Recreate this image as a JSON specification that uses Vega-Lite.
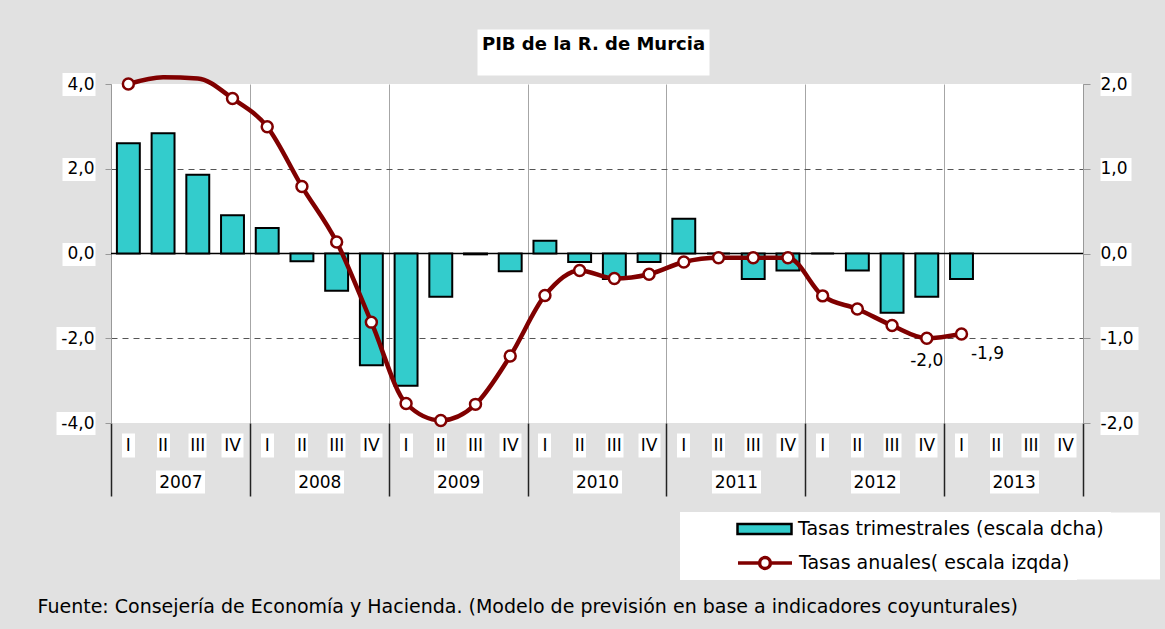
{
  "$schema": "https://vega.github.io/schema/vega-lite/v6.json",
  "width": 972,
  "height": 339,
  "autosize": {"type": "none"},
  "padding": {"left": 111, "top": 84, "right": 82, "bottom": 206},
  "background": "#e1e1e1",
  "config": {
    "view": {"fill": "white", "stroke": null},
    "font": "DejaVu Sans",
    "locale": {"number": {"decimal": ",", "thousands": ".", "grouping": [3], "currency": ["", " €"], "minus": "-"}},
    "axis": {"labelFont": "DejaVu Sans", "labelColor": "black", "labelFontSize": 17, "title": null},
    "legend": {"title": null, "orient": "none", "fillColor": "white", "padding": 7, "symbolOffset": 49, "labelOffset": 5,
      "clipHeight": 20, "labelFontSize": 19, "labelColor": "black", "labelFont": "DejaVu Sans", "labelLimit": 800, "symbolSize": 2916}
  },
  "data": {
    "values": [
      {"q": "2007-I", "year": "2007", "trim": 1.30, "anual": 4.00},
      {"q": "2007-II", "year": "2007", "trim": 1.42, "anual": 4.16},
      {"q": "2007-III", "year": "2007", "trim": 0.93, "anual": 4.13},
      {"q": "2007-IV", "year": "2007", "trim": 0.45, "anual": 3.66},
      {"q": "2008-I", "year": "2008", "trim": 0.30, "anual": 2.99},
      {"q": "2008-II", "year": "2008", "trim": -0.09, "anual": 1.58},
      {"q": "2008-III", "year": "2008", "trim": -0.44, "anual": 0.27},
      {"q": "2008-IV", "year": "2008", "trim": -1.32, "anual": -1.62},
      {"q": "2009-I", "year": "2009", "trim": -1.56, "anual": -3.54},
      {"q": "2009-II", "year": "2009", "trim": -0.51, "anual": -3.94},
      {"q": "2009-III", "year": "2009", "trim": -0.01, "anual": -3.56},
      {"q": "2009-IV", "year": "2009", "trim": -0.21, "anual": -2.42},
      {"q": "2010-I", "year": "2010", "trim": 0.15, "anual": -0.99},
      {"q": "2010-II", "year": "2010", "trim": -0.10, "anual": -0.40},
      {"q": "2010-III", "year": "2010", "trim": -0.30, "anual": -0.59},
      {"q": "2010-IV", "year": "2010", "trim": -0.10, "anual": -0.49},
      {"q": "2011-I", "year": "2011", "trim": 0.41, "anual": -0.20},
      {"q": "2011-II", "year": "2011", "trim": 0.0, "anual": -0.10},
      {"q": "2011-III", "year": "2011", "trim": -0.30, "anual": -0.10},
      {"q": "2011-IV", "year": "2011", "trim": -0.20, "anual": -0.10},
      {"q": "2012-I", "year": "2012", "trim": 0.0, "anual": -1.00},
      {"q": "2012-II", "year": "2012", "trim": -0.20, "anual": -1.31},
      {"q": "2012-III", "year": "2012", "trim": -0.70, "anual": -1.70},
      {"q": "2012-IV", "year": "2012", "trim": -0.51, "anual": -2.00, "etiqueta": "-2,0"},
      {"q": "2013-I", "year": "2013", "trim": -0.30, "anual": -1.90, "etiqueta": "-1,9"},
      {"q": "2013-II", "year": "2013", "trim": null, "anual": null},
      {"q": "2013-III", "year": "2013", "trim": null, "anual": null},
      {"q": "2013-IV", "year": "2013", "trim": null, "anual": null}
    ]
  },
  "resolve": {"scale": {"x": "independent", "y": "independent"}, "axis": {"x": "independent", "y": "independent"}},
  "layer": [
    {
      "mark": {"type": "point", "opacity": 0},
      "encoding": {
        "x": {"field": "year", "type": "nominal",
          "scale": {"domain": ["2007","2008","2009","2010","2011","2012","2013"], "paddingInner": 0, "paddingOuter": 0},
          "axis": {"orient": "bottom", "values": ["2012"], "offset": 89, "ticks": true, "tickSize": 67, "tickWidth": 479, "tickOffset": 45, "tickColor": "white", "labels": false, "domain": false, "grid": false}},
        "y": {"field": "anual", "type": "quantitative", "scale": {"domain": [-4, 4], "nice": false}, "axis": null}
      }
    },
    {
      "mark": {"type": "point", "opacity": 0},
      "encoding": {
        "x": {"field": "year", "type": "nominal",
          "scale": {"domain": ["2007","2008","2009","2010","2011","2012","2013"], "paddingInner": 0, "paddingOuter": 0},
          "axis": {"orient": "bottom", "values": ["2007"], "offset": 0, "ticks": true, "tickSize": 0, "tickColor": "transparent", "domain": false, "grid": false,
            "labelExpr": "'Fuente: Consejería de Economía y Hacienda. (Modelo de previsión en base a indicadores coyunturales)'",
            "labelAngle": 0, "labelAlign": "left", "labelBaseline": "top", "labelOffset": -143.4, "labelPadding": 174,
            "labelFontSize": 19, "labelLimit": 1200}},
        "y": {"field": "anual", "type": "quantitative", "scale": {"domain": [-4, 4], "nice": false}, "axis": null}
      }
    },
    {
      "mark": {"type": "point", "opacity": 0},
      "encoding": {
        "x": {"field": "year", "type": "nominal",
          "scale": {"domain": ["2007","2008","2009","2010","2011","2012","2013"], "paddingInner": 0, "paddingOuter": 0},
          "axis": {"orient": "bottom", "offset": 47, "ticks": true, "tickSize": 23, "tickWidth": 49, "tickColor": "white", "labels": false, "domain": false, "grid": false}},
        "y": {"field": "anual", "type": "quantitative",
          "scale": {"domain": [-4, 4], "nice": false, "zero": false},
          "axis": {"orient": "left", "values": [-4, -2, 0, 2, 4], "offset": 16,
            "tickSize": {"condition": {"test": "datum.value < 0", "value": 39}, "value": 33},
            "tickWidth": 23, "tickColor": "white", "labels": false, "domain": false,
            "grid": true, "gridDash": [6, 5], "gridColor": "#555",
            "gridOpacity": {"condition": {"test": "abs(datum.value) == 2", "value": 1}, "value": 0}}}
      }
    },
    {
      "mark": {"type": "point", "opacity": 0},
      "encoding": {
        "x": {"field": "year", "type": "nominal",
          "scale": {"domain": ["2007","2008","2009","2010","2011","2012","2013"], "paddingInner": 0, "paddingOuter": 0},
          "axis": {"orient": "bottom", "offset": 0, "tickBand": "extent", "ticks": true, "tickSize": 73, "tickWidth": 1.5, "tickColor": "#222",
            "grid": true, "gridColor": "#a6a6a6", "gridWidth": 1, "domain": false, "labelAngle": 0,
            "labelBaseline": "middle", "labelPadding": -14}},
        "y": {"field": "trim", "type": "quantitative",
          "scale": {"domain": [-2, 2], "nice": false, "zero": false},
          "axis": {"orient": "right", "values": [-2, -1, 0, 1, 2], "offset": 17,
            "tickSize": {"condition": {"test": "datum.value < 0", "value": 38}, "value": 31},
            "tickWidth": 23, "tickColor": "white", "labels": false, "domain": false, "grid": false}}
      }
    },
    {
      "mark": {"type": "point", "opacity": 0},
      "encoding": {
        "x": {"field": "year", "type": "nominal",
          "scale": {"domain": ["2007","2008","2009","2010","2011","2012","2013"], "paddingInner": 0, "paddingOuter": 0},
          "axis": {"orient": "top", "values": ["2010"], "offset": 9, "ticks": true, "tickSize": 46, "tickWidth": 232, "tickOffset": -4, "tickColor": "white",
            "domain": false, "grid": false, "labelAngle": 0,
            "labelExpr": "'PIB de la R. de Murcia'", "labelFontWeight": "bold", "labelFontSize": 18,
            "labelBaseline": "alphabetic", "labelPadding": -20, "labelLimit": 400}},
        "y": {"field": "anual", "type": "quantitative", "scale": {"domain": [-4, 4], "nice": false}, "axis": null}
      }
    },
    {
      "data": {"values": [{"z": 0}]},
      "mark": {"type": "rule", "color": "black", "strokeWidth": 1.5},
      "encoding": {
        "y": {"field": "z", "type": "quantitative", "scale": {"domain": [-4, 4], "nice": false}, "axis": null}
      }
    },
    {
      "mark": {"type": "bar", "stroke": "black", "strokeWidth": 2},
      "encoding": {
        "x": {"field": "q", "type": "nominal",
          "scale": {"domain": ["2007-I","2007-II","2007-III","2007-IV","2008-I","2008-II","2008-III","2008-IV","2009-I","2009-II","2009-III","2009-IV","2010-I","2010-II","2010-III","2010-IV","2011-I","2011-II","2011-III","2011-IV","2012-I","2012-II","2012-III","2012-IV","2013-I","2013-II","2013-III","2013-IV"], "paddingInner": 0.34, "paddingOuter": 0.17},
          "axis": {"orient": "bottom", "offset": 10, "ticks": true, "tickSize": 24,
            "tickWidth": {"condition": [{"test": "test(/-IV$/, datum.value)", "value": 22}, {"test": "test(/-III$/, datum.value)", "value": 18}], "value": 13},
            "tickColor": "white", "domain": false, "grid": false, "labelAngle": 0,
            "labelExpr": "split(datum.value, '-')[1]", "labelBaseline": "middle", "labelPadding": -11.5}},
        "y": {"field": "trim", "type": "quantitative",
          "scale": {"domain": [-2, 2], "nice": false, "zero": true},
          "axis": {"orient": "right", "values": [-2, -1, 0, 1, 2], "labelExpr": "replace(format(datum.value, '.1f'), '.', ',')",
            "tickSize": 7, "tickColor": "#999", "domainColor": "#999", "labelPadding": 10, "grid": false}},
        "fill": {"datum": "Tasas trimestrales (escala dcha)", "type": "nominal",
          "scale": {"range": ["#33CCCC"]},
          "legend": {
            "legendX": 569, "legendY": 428,
            "symbolType": "M-1,-0.185H1V0.185H-1Z", "symbolStrokeColor": "black", "symbolStrokeWidth": 2.5, "symbolFillColor": "#33CCCC"
          }}
      }
    },
    {
      "mark": {"type": "line", "strokeWidth": 4.5, "interpolate": "monotone", "clip": false},
      "encoding": {
        "x": {"field": "q", "type": "nominal",
          "scale": {"domain": ["2007-I","2007-II","2007-III","2007-IV","2008-I","2008-II","2008-III","2008-IV","2009-I","2009-II","2009-III","2009-IV","2010-I","2010-II","2010-III","2010-IV","2011-I","2011-II","2011-III","2011-IV","2012-I","2012-II","2012-III","2012-IV","2013-I","2013-II","2013-III","2013-IV"], "paddingInner": 0.34, "paddingOuter": 0.17},
          "axis": null},
        "y": {"field": "anual", "type": "quantitative",
          "scale": {"domain": [-4, 4], "nice": false, "zero": false},
          "axis": {"orient": "left", "values": [-4, -2, 0, 2, 4], "labelExpr": "replace(format(datum.value, '.1f'), '.', ',')",
            "tickSize": 6, "tickColor": "#999", "domainColor": "#999", "labelPadding": 11, "grid": false}},
        "stroke": {"datum": "Tasas anuales( escala izqda)", "type": "nominal",
          "scale": {"range": ["#800000"]},
          "legend": {
            "legendX": 569, "legendY": 462,
            "symbolType": "M-1,0H-0.2M0.2,0H1M0.2,0A0.2,0.2 0 1,1 -0.2,0A0.2,0.2 0 1,1 0.2,0",
            "symbolStrokeColor": "#800000", "symbolStrokeWidth": 3.5, "symbolFillColor": "white"
          }}
      }
    },
    {
      "transform": [{"filter": "datum.anual != null && datum.anual <= 4.05"}],
      "mark": {"type": "point", "filled": true, "fill": "white", "stroke": "#800000", "strokeWidth": 2.5, "size": 120, "opacity": 1},
      "encoding": {
        "x": {"field": "q", "type": "nominal",
          "scale": {"domain": ["2007-I","2007-II","2007-III","2007-IV","2008-I","2008-II","2008-III","2008-IV","2009-I","2009-II","2009-III","2009-IV","2010-I","2010-II","2010-III","2010-IV","2011-I","2011-II","2011-III","2011-IV","2012-I","2012-II","2012-III","2012-IV","2013-I","2013-II","2013-III","2013-IV"], "paddingInner": 0.34, "paddingOuter": 0.17},
          "axis": null},
        "y": {"field": "anual", "type": "quantitative", "scale": {"domain": [-4, 4], "nice": false, "zero": false}, "axis": null}
      }
    },
    {
      "transform": [{"filter": "datum.q == '2012-IV'"}],
      "mark": {"type": "text", "fontSize": 17, "color": "black", "dy": 23, "font": "DejaVu Sans"},
      "encoding": {
        "x": {"field": "q", "type": "nominal",
          "scale": {"domain": ["2007-I","2007-II","2007-III","2007-IV","2008-I","2008-II","2008-III","2008-IV","2009-I","2009-II","2009-III","2009-IV","2010-I","2010-II","2010-III","2010-IV","2011-I","2011-II","2011-III","2011-IV","2012-I","2012-II","2012-III","2012-IV","2013-I","2013-II","2013-III","2013-IV"], "paddingInner": 0.34, "paddingOuter": 0.17},
          "axis": null},
        "y": {"field": "anual", "type": "quantitative", "scale": {"domain": [-4, 4], "nice": false, "zero": false}, "axis": null},
        "text": {"field": "etiqueta"}
      }
    },
    {
      "transform": [{"filter": "datum.q == '2013-I'"}],
      "mark": {"type": "text", "fontSize": 17, "color": "black", "dx": 26, "dy": 20, "font": "DejaVu Sans"},
      "encoding": {
        "x": {"field": "q", "type": "nominal",
          "scale": {"domain": ["2007-I","2007-II","2007-III","2007-IV","2008-I","2008-II","2008-III","2008-IV","2009-I","2009-II","2009-III","2009-IV","2010-I","2010-II","2010-III","2010-IV","2011-I","2011-II","2011-III","2011-IV","2012-I","2012-II","2012-III","2012-IV","2013-I","2013-II","2013-III","2013-IV"], "paddingInner": 0.34, "paddingOuter": 0.17},
          "axis": null},
        "y": {"field": "anual", "type": "quantitative", "scale": {"domain": [-4, 4], "nice": false, "zero": false}, "axis": null},
        "text": {"field": "etiqueta"}
      }
    }
  ]
}
